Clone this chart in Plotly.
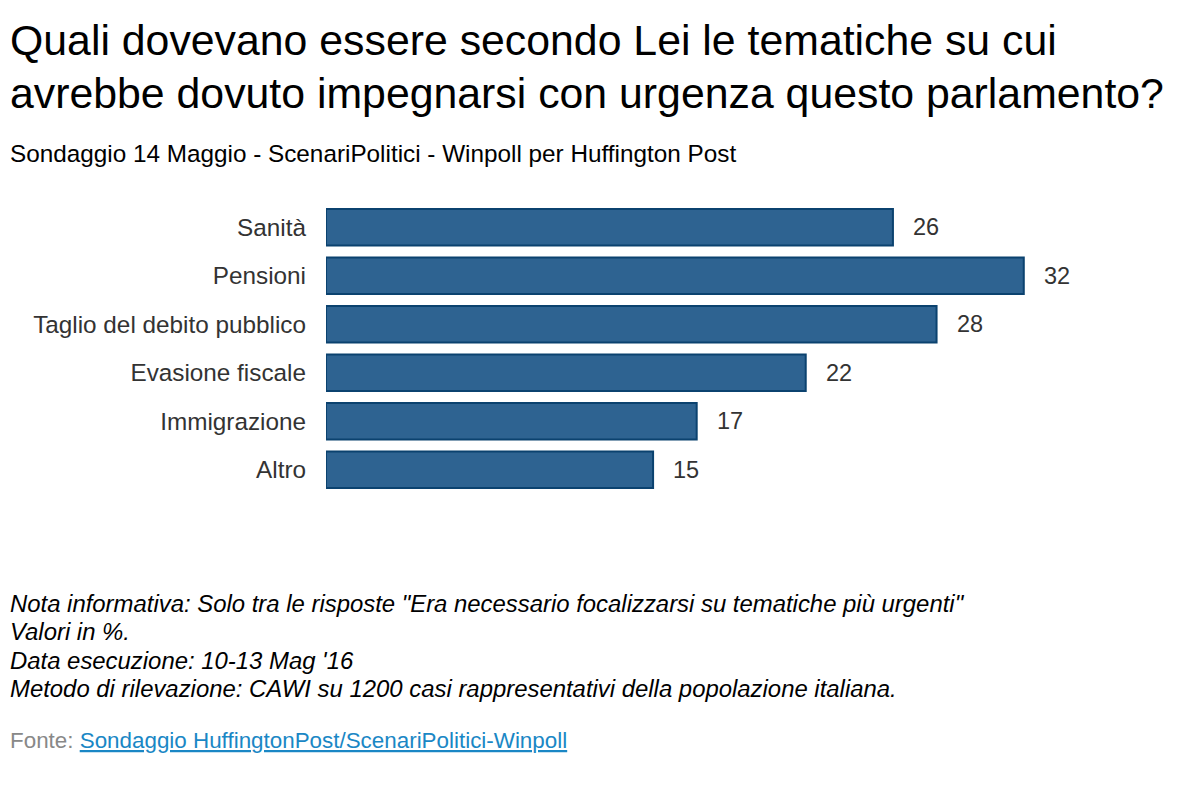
import plotly.graph_objects as go

categories = ["Sanità", "Pensioni", "Taglio del debito pubblico", "Evasione fiscale", "Immigrazione", "Altro"]
values = [26, 32, 28, 22, 17, 15]

title_lines = [
    "Quali dovevano essere secondo Lei le tematiche su cui",
    "avrebbe dovuto impegnarsi con urgenza questo parlamento?",
]
subtitle_text = "Sondaggio 14 Maggio - ScenariPolitici - Winpoll per Huffington Post"
note_lines = [
    'Nota informativa: Solo tra le risposte "Era necessario focalizzarsi su tematiche più urgenti"',
    "Valori in %.",
    "Data esecuzione: 10-13 Mag '16",
    "Metodo di rilevazione: CAWI su 1200 casi rappresentativi della popolazione italiana.",
]
source_label = "Fonte:"
source_link = "Sondaggio HuffingtonPost/ScenariPolitici-Winpoll"

# the page puts the figure 8px in from the top-left corner
OFF = 8
W, H = 1200, 800
ML, MR, MT, MB = 326 - OFF, 97, 203 - OFF, 314
PW, PH = W - ML - MR, H - MT - MB
FONT = "Liberation Sans, Arial, Helvetica, sans-serif"
TEXT_X = 8  # left edge of the header/footer texts (annotation pad adds ~2px)


def px_x(x):
    return (x - OFF - ML) / PW


def px_y(y):
    return (H - MB - (y - OFF)) / PH


fig = go.Figure()
fig.add_trace(go.Bar(
    x=values, y=categories, orientation="h",
    marker=dict(color="#2e6391", line=dict(color="#0b426f", width=2)),
    hoverinfo="x+y",
))

annotations = []
for c, v in zip(categories, values):
    annotations.append(dict(x=v, y=c, xref="x", yref="y", text=str(v), showarrow=False,
                            xanchor="left", xshift=18, font=dict(size=23.5, color="#333333")))

for i, line in enumerate(title_lines):
    annotations.append(dict(x=px_x(TEXT_X), y=px_y(40 + i * 53), xref="paper", yref="paper",
                            text=line, showarrow=False, xanchor="left", yanchor="middle",
                            font=dict(size=42.8, color="#000000")))

annotations.append(dict(x=px_x(TEXT_X), y=px_y(153), xref="paper", yref="paper", text=subtitle_text,
                        showarrow=False, xanchor="left", yanchor="middle",
                        font=dict(size=24.3, color="#000000")))

for i, line in enumerate(note_lines):
    annotations.append(dict(x=px_x(TEXT_X), y=px_y(603 + i * 28.5), xref="paper", yref="paper",
                            text="<i>" + line + "</i>", showarrow=False, xanchor="left",
                            yanchor="middle", font=dict(size=23.9, color="#000000")))

annotations.append(dict(
    x=px_x(TEXT_X), y=px_y(740), xref="paper", yref="paper", showarrow=False,
    xanchor="left", yanchor="middle", font=dict(size=22.4, color="#888888"),
    text=source_label + " <a href='http://www.huffingtonpost.it/' style='color:#1a87c5'><u>"
         + source_link + "</u></a>",
))

fig.update_layout(
    width=W, height=H,
    margin=dict(l=ML, r=MR, t=MT, b=MB),
    paper_bgcolor="white", plot_bgcolor="white",
    font=dict(family=FONT, color="#333333"),
    xaxis=dict(range=[0, 36], visible=False, fixedrange=True),
    yaxis=dict(autorange="reversed", showgrid=False, zeroline=False, showline=False,
               ticks="", ticklabelstandoff=19, tickfont=dict(size=24.3, color="#333333")),
    bargap=0.243,
    showlegend=False,
    annotations=annotations,
)

fig.write_html("out.html")
